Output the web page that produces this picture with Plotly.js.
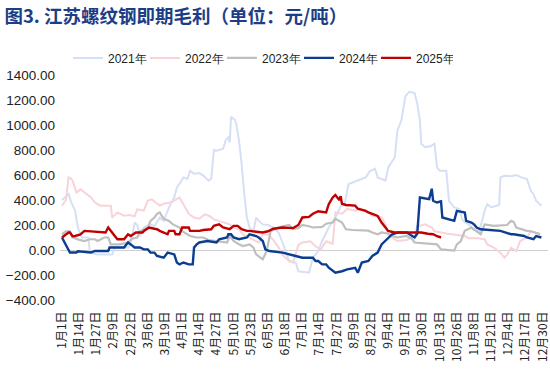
<!DOCTYPE html>
<html>
<head>
<meta charset="utf-8">
<script src="https://cdn.plot.ly/plotly-3.0.1.min.js"></script>
<style>html,body{margin:0;padding:0;background:#fff;}#chart{width:550px;height:376px;}</style>
</head>
<body>
<div id="chart"></div>
<script>
// day index: 0 = 1月1日 (leap-year calendar), 364 = 12月30日
const tickDays = [0,13,26,39,52,65,78,91,104,117,130,143,156,169,182,195,208,221,234,247,260,273,286,299,312,325,338,351,364];
const tickLabels = ["1月1日","1月14日","1月27日","2月9日","2月22日","3月6日","3月19日","4月1日","4月14日","4月27日","5月10日","5月23日","6月5日","6月18日","7月1日","7月14日","7月27日","8月9日","8月22日","9月4日","9月17日","9月30日","10月13日","10月26日","11月8日","11月21日","12月4日","12月17日","12月30日"];

const days2021 = [0,3,5,7,10,12,14,15,20,21,24,27,32,38,40,50,52,55,57,59,62,67,70,74,77,82,85,87,89,92,95,97,100,104,107,111,113,115,117,122,124,126,127,128,131,132,134,136,138,140,142,145,147,149,152,156,160,164,167,172,177,179,187,190,194,197,202,207,211,214,217,224,230,233,237,239,245,247,252,254,257,260,263,267,269,271,272,275,279,282,284,286,291,293,295,297,301,303,305,308,312,316,320,322,325,331,332,335,340,344,347,352,355,357,359,363];
const vals2021 = [400,430,447,380,314,180,126,100,100,-10,-30,-35,-35,-35,20,20,40,220,200,110,180,205,190,260,233,365,420,500,530,580,570,635,610,615,595,555,570,800,795,810,880,900,860,1065,1040,1010,875,690,450,260,180,150,260,233,205,200,180,140,60,-90,-100,-170,-182,-62,-8,72,180,260,350,367,528,555,580,630,650,580,555,660,742,957,1037,1230,1265,1255,1170,1037,850,822,830,850,662,635,635,394,367,340,327,247,220,205,160,150,313,367,340,360,580,595,590,600,585,568,474,447,394,354];

const days2022 = [0,3,5,7,8,11,14,17,20,22,25,29,37,38,42,47,51,55,57,62,65,68,71,74,77,82,85,89,92,96,100,104,108,112,115,119,122,127,130,134,137,142,145,149,152,156,160,164,167,171,175,179,182,188,192,196,200,205,207,212,216,222,226,232,235,242,245,247,250,254,261,267,269,275,280,282,292,295,305,308,314,320,322,327,332,335,337,340,344,347,352,355,362];
const vals2022 = [354,400,580,570,555,460,485,460,430,420,380,355,355,260,300,275,280,270,325,315,395,405,380,355,370,380,395,420,365,290,260,250,285,270,245,233,220,205,180,165,125,100,85,60,125,125,80,20,-40,-80,-100,40,60,70,30,5,70,50,300,290,330,315,325,300,275,260,205,125,100,72,80,110,190,205,180,150,130,125,112,95,95,86,45,19,-21,-62,-40,19,-8,72,100,150,130];

const days2023 = [0,3,6,8,12,17,21,25,27,32,35,37,44,50,53,57,59,65,67,70,72,74,77,81,84,89,91,95,97,102,107,111,117,125,127,130,134,137,142,145,147,150,152,155,158,164,167,172,175,179,182,187,190,197,200,205,207,212,215,220,232,235,239,242,247,250,254,261,265,267,272,284,287,297,299,302,305,310,314,317,320,327,337,340,342,344,352,355,362];
const vals2023 = [126,150,150,100,85,72,86,86,72,100,100,45,45,60,90,100,150,180,233,260,290,300,250,233,205,180,150,125,112,100,100,80,72,60,112,72,45,32,45,19,-35,-62,-75,-8,150,180,190,200,170,175,200,190,180,185,210,220,250,220,166,160,155,140,126,140,130,112,100,112,90,60,55,45,5,-5,45,72,153,180,150,126,205,193,200,233,225,180,153,150,126];

const days2024 = [0,2,4,6,11,12,22,25,35,36,47,50,52,55,59,62,65,67,70,72,77,80,85,87,89,92,96,99,100,102,104,110,117,119,125,126,128,130,134,140,142,147,149,152,154,157,167,171,177,182,190,192,194,197,200,202,205,207,212,216,222,224,227,232,235,239,242,247,250,254,261,267,269,271,278,280,281,284,287,288,292,297,299,305,306,310,312,314,317,329,332,340,342,350,352,357,359,363];
const vals2024 = [100,60,20,-20,-20,-10,-20,-8,-8,20,20,60,45,20,20,5,5,-21,-21,-48,-62,-21,-35,-100,-115,-100,-115,-115,20,45,60,72,60,86,100,126,126,100,86,100,126,112,100,72,5,-8,-21,-30,-48,-62,-62,-88,-88,-115,-115,-142,-170,-182,-170,-155,-142,-182,-100,-88,-48,-21,45,100,126,140,140,100,130,420,407,490,394,380,390,260,247,233,313,300,233,220,205,180,166,153,153,126,126,112,100,86,112,100];

const days2025 = [0,5,6,8,10,14,17,21,29,33,35,37,40,42,47,50,52,56,61,62,66,70,72,74,80,81,85,86,89,91,96,97,104,107,113,115,119,122,127,130,133,136,140,142,152,156,160,167,175,179,182,187,190,194,200,202,205,207,210,211,212,215,222,224,230,232,239,242,245,247,252,261,269,272,277,281,284,287];
const vals2025 = [100,140,140,110,112,125,153,150,145,140,180,150,112,86,86,126,112,140,140,153,180,170,166,153,126,153,153,126,126,180,180,153,153,160,166,193,205,180,166,193,193,166,153,153,140,150,170,180,175,200,260,265,290,310,300,367,420,440,400,430,370,360,355,330,313,300,273,220,180,153,140,140,140,140,130,126,110,100];

const seriesNames = ["2021年","2022年","2023年","2024年","2025年"];
const seriesColors = ["#d5e0f4","#f8d3d9","#bfbfbf","#0b3d91","#c00000"];
const seriesWidths = [2,2,2.2,2.4,2.4];
const allDays = [days2021,days2022,days2023,days2024,days2025];
const allVals = [vals2021,vals2022,vals2023,vals2024,vals2025];

const FONT = '"Noto Sans CJK SC", "Noto Sans", sans-serif';
const NUMFONT = '"Liberation Sans", Arial, sans-serif';
const traces = seriesNames.map((n,i)=>({
  type:'scatter', mode:'lines', name:n, x:allDays[i], y:allVals[i],
  line:{color:seriesColors[i], width:seriesWidths[i]}, hoverinfo:'skip'
}));

const layout = {
  width:550, height:376,
  margin:{l:60, r:2, t:75, b:76},
  paper_bgcolor:'#fff', plot_bgcolor:'#fff',
  font:{family:FONT, color:'#222', size:12},
  title:{text:'<b>图3. 江苏螺纹钢即期毛利（单位：元/吨）</b>', font:{family:FONT, size:18.5, color:'#1d3e87'}, x:0.008, xanchor:'left', xref:'container', y:0.955, yanchor:'middle', yref:'container'},
  showlegend:true,
  legend:{orientation:'h', x:0.4736, xanchor:'center', xref:'container', y:0.846, yanchor:'middle', yref:'container', font:{family:NUMFONT, size:12, color:'#222'}, traceorder:'normal', entrywidth:32, entrywidthmode:'pixels'},
  xaxis:{range:[-1.5,368], tickmode:'array', tickvals:tickDays, ticktext:tickLabels, tickangle:-90, showgrid:false, zeroline:false, showline:false, ticks:'', ticklabelstandoff:8, ticklabeloverflow:'allow', tickfont:{family:FONT, size:12, color:'#222'}},
  yaxis:{range:[-400,1400], dtick:200, tick0:0, tickformat:'.2f', showgrid:false, zeroline:true, zerolinecolor:'#d0d0d0', zerolinewidth:1, showline:false, ticks:'', ticklabelstandoff:4, tickfont:{family:NUMFONT, size:13.5, color:'#222'}}
};
Plotly.newPlot('chart', traces, layout, {staticPlot:true, displayModeBar:false});
</script>
</body>
</html>
